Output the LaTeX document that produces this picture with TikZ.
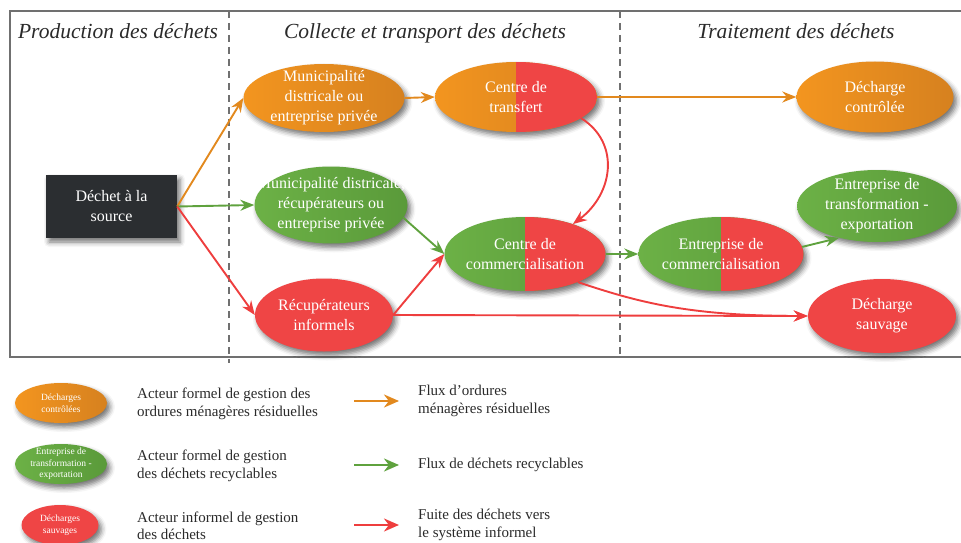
\documentclass[tikz,border=0pt]{standalone}
\usepackage{fontspec}
\setmainfont{Liberation Serif}
\usetikzlibrary{shapes.geometric,arrows.meta,shadows.blur}

\definecolor{orangeL}{HTML}{F3951F}
\definecolor{orangeR}{HTML}{D6811F}
\definecolor{greenL}{HTML}{6CB146}
\definecolor{greenR}{HTML}{5A9A3A}
\definecolor{actorred}{HTML}{EF4545}
\definecolor{sourcegray}{HTML}{2B2E31}
\definecolor{orangeflow}{HTML}{E2891E}
\definecolor{greenflow}{HTML}{5FA23E}
\definecolor{redflow}{HTML}{EE3E3E}
\definecolor{framegray}{HTML}{707070}
\definecolor{inkgray}{HTML}{2A2A2A}

\tikzset{
  softshadow/.style={blur shadow={shadow xshift=3pt, shadow yshift=-4pt, shadow blur radius=5pt, shadow opacity=55}},
  actor/.style={ellipse, inner sep=0pt, softshadow},
  orangeactor/.style={actor, left color=orangeL, right color=orangeR},
  greenactor/.style={actor, left color=greenL, right color=greenR},
  redactor/.style={actor, fill=actorred},
  halfred/.style={path picture={\fill[actorred] (path picture bounding box.north) rectangle (path picture bounding box.south east);}},
  actortext/.style={text=white, align=center, font=\fontsize{16}{20}\selectfont},
  keytext/.style={text=white, align=center, font=\fontsize{9.5}{11.5}\selectfont},
  sourcebox/.style={rectangle, fill=sourcegray, minimum width=131pt, minimum height=63pt, softshadow, text=white, align=center, font=\fontsize{16}{20}\selectfont},
  legendtext/.style={anchor=west, inner sep=0pt, text=inkgray, align=left, font=\fontsize{15}{17.5}\selectfont},
  heading/.style={anchor=base, text=inkgray, font=\fontsize{21.5}{24}\selectfont\itshape},
  flow/.style={-{Stealth[length=14pt,width=11pt]}, line width=1.9pt},
  keyflow/.style={-{Stealth[length=15pt,width=13pt]}, line width=2.8pt},
}

\begin{document}
\begin{tikzpicture}[x=1pt,y=-1pt]

    \useasboundingbox (0,0) rectangle (961,543);

    %frame and column separators
    \draw[framegray, line width=1.3pt] (10,11) rectangle (975,357);
    \draw[framegray, line width=1.2pt, dash pattern=on 7pt off 5pt] (229,11) -- (229,363);
    \draw[framegray, line width=1.2pt, dash pattern=on 7pt off 5pt] (620,11) -- (620,357);

    %column headings
    \node[heading] (headprod) at (118,39) {Production des déchets};
    \node[heading] (headcoll) at (425,39) {Collecte et transport des déchets};
    \node[heading] (headtrait) at (796,39) {Traitement des déchets};

    %source
    \node[sourcebox] (source) at (111.5,206.5) {Déchet à la\\source};

    %collection actors
    \node[orangeactor, minimum width=161pt, minimum height=68pt,
        label={[actortext]center:{Municipalité\\districale ou\\entreprise privée}}] (muni) at (324,98) {};
    \node[greenactor, minimum width=153pt, minimum height=77pt,
        label={[actortext]center:{Municipalité districale,\\récupérateurs ou\\entreprise privée}}] (greenmuni) at (331,205) {};
    \node[redactor, minimum width=138pt, minimum height=73pt,
        label={[actortext]center:{Récupérateurs\\informels}}] (recup) at (324,315) {};
    \node[orangeactor, halfred, minimum width=162pt, minimum height=70pt,
        label={[actortext]center:{Centre de\\transfert}}] (transfert) at (516,97) {};
    \node[greenactor, halfred, minimum width=161pt, minimum height=74pt,
        label={[actortext]center:{Centre de\\commercialisation}}] (commerce) at (525,254) {};

    %treatment actors
    \node[greenactor, halfred, minimum width=165pt, minimum height=74pt,
        label={[actortext]center:{Entreprise de\\commercialisation}}] (entcomm) at (721,254) {};
    \node[orangeactor, minimum width=157pt, minimum height=71pt,
        label={[actortext]center:{Décharge\\contrôlée}}] (controlee) at (875,97) {};
    \node[greenactor, minimum width=160pt, minimum height=72pt,
        label={[actortext]center:{Entreprise de\\transformation -\\exportation}}] (transfo) at (877,206) {};
    \node[redactor, minimum width=148pt, minimum height=74pt,
        label={[actortext]center:{Décharge\\sauvage}}] (sauvage) at (882,316) {};

    %flows out of the source
    \draw[flow, orangeflow] (source.east) -- (muni.west);
    \draw[flow, greenflow] (source.east) -- (greenmuni.west);
    \draw[flow, redflow] (source.east) -- (recup.west);

    %household waste flows
    \draw[flow, orangeflow] (muni.east) -- (transfert.west);
    \draw[flow, orangeflow] (transfert.east) -- (controlee.west);

    %recyclable flows
    \draw[flow, greenflow] (greenmuni.-10) -- (commerce.west);
    \draw[flow, greenflow] (commerce.east) -- (entcomm.west);
    \draw[flow, greenflow] (entcomm.5) -- (transfo.220);

    %leaks to the informal system
    \draw[flow, redflow] (transfert.-18) .. controls +(40,25) and +(40,-30) .. (commerce.32);
    \draw[flow, redflow] (recup.east) -- (commerce.west);
    \draw[flow, redflow] (recup.east) -- (sauvage.west);
    \draw[flow, redflow] (commerce.-28) .. controls +(60,20) and +(-120,0) .. (sauvage.west);

    %legend, actors
    \node[orangeactor, minimum width=92pt, minimum height=40pt,
        label={[keytext]center:{Décharges\\contrôlées}}] (keyorange) at (61,403) {};
    \node[greenactor, minimum width=92pt, minimum height=40pt,
        label={[keytext]center:{Entreprise de\\transformation -\\exportation}}] (keygreen) at (61,464) {};
    \node[redactor, minimum width=77pt, minimum height=40pt,
        label={[keytext]center:{Décharges\\sauvages}}] (keyred) at (60,525) {};

    \node[legendtext] (keyorangetext) at (137,404) {Acteur formel de gestion des\\ordures ménagères résiduelles};
    \node[legendtext] (keygreentext) at (137,466) {Acteur formel de gestion\\des déchets recyclables};
    \node[legendtext] (keyredtext) at (137,526) {Acteur informel de gestion\\des déchets};

    %legend, flows
    \coordinate (keyflowA) at (354,401);
    \coordinate (keyflowAend) at (399,401);
    \coordinate (keyflowB) at (354,465);
    \coordinate (keyflowBend) at (399,465);
    \coordinate (keyflowC) at (354,525);
    \coordinate (keyflowCend) at (399,525);
    \draw[keyflow, orangeflow] (keyflowA) -- (keyflowAend);
    \draw[keyflow, greenflow] (keyflowB) -- (keyflowBend);
    \draw[keyflow, redflow] (keyflowC) -- (keyflowCend);

    \node[legendtext] (flowatext) at (418,401) {Flux d’ordures\\ménagères résiduelles};
    \node[legendtext] (flowbtext) at (418,465) {Flux de déchets recyclables};
    \node[legendtext] (flowctext) at (418,525) {Fuite des déchets vers\\le système informel};

\end{tikzpicture}
\end{document}
